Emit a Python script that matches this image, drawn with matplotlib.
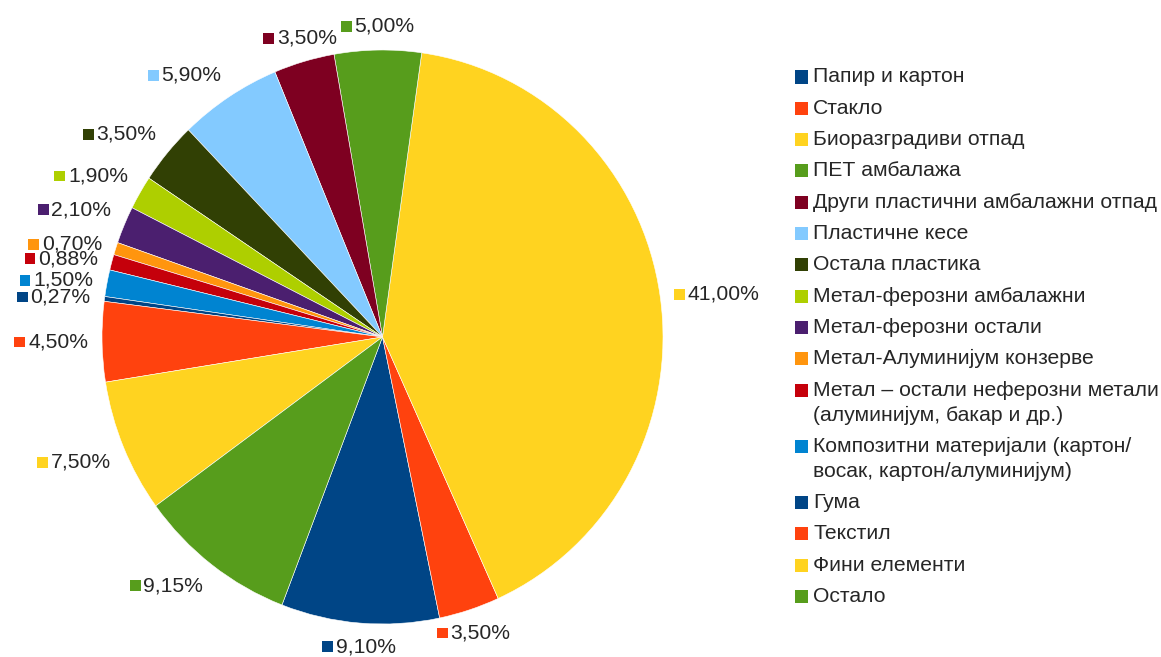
import numpy as np
import matplotlib
matplotlib.use("Agg")
import matplotlib.pyplot as plt
from matplotlib.patches import Rectangle
from matplotlib.offsetbox import AnnotationBbox, HPacker, DrawingArea, TextArea

categories = [
    "Папир и картон",
    "Стакло",
    "Биоразградиви отпад",
    "ПЕТ амбалажа",
    "Други пластични амбалажни отпад",
    "Пластичне кесе",
    "Остала пластика",
    "Метал-ферозни амбалажни",
    "Метал-ферозни остали",
    "Метал-Алуминијум конзерве",
    "Метал – остали неферозни метали\n(алуминијум, бакар и др.)",
    "Композитни материјали (картон/\nвосак, картон/алуминијум)",
    "Гума",
    "Текстил",
    "Фини елементи",
    "Остало",
]
values = [9.10, 3.50, 41.00, 5.00, 3.50, 5.90, 3.50, 1.90,
          2.10, 0.70, 0.88, 1.50, 0.27, 4.50, 7.50, 9.15]
colors = ["#004586", "#ff420e", "#ffd320", "#579d1c", "#7e0021", "#83caff",
          "#314004", "#aecf00", "#4b1f6f", "#ff950e", "#c5000b", "#0084d1",
          "#004586", "#ff420e", "#ffd320", "#579d1c"]

W, H = 1161, 657
FONT = "Liberation Sans"
TXT = "#262626"
FS = 15.2
START = -111.0


def label_align(deg):
    # libreoffice style: 8 sectors around the circle
    d = deg % 360
    if d <= 22.5 or d > 337.5:
        return 0.0, 0.5
    if d < 67.5:
        return 0.0, 0.0
    if d < 112.5:
        return 0.5, 0.0
    if d <= 157.5:
        return 1.0, 0.0
    if d <= 202.5:
        return 1.0, 0.5
    if d < 247.5:
        return 1.0, 1.0
    if d < 292.5:
        return 0.5, 1.0
    return 0.0, 1.0


def pie_labels(ax):
    total = sum(values)
    angle = START
    for v, c in zip(values, colors):
        span = 360.0 * v / total
        mid = angle + span / 2
        angle += span
        r = 1.05
        px, py = r * np.cos(np.radians(mid)), r * np.sin(np.radians(mid))
        da = DrawingArea(7.8, 7.8, 0, 0)
        da.add_artist(Rectangle((0, 0), 7.8, 7.8, fc=c, ec="none"))
        ta = TextArea(f"{v:.2f}".replace(".", ",") + "%",
                      textprops=dict(fontsize=FS, color=TXT, family=FONT))
        box = HPacker(children=[da, ta], align="center", pad=0, sep=2)
        ab = AnnotationBbox(box, (px, py), xycoords="data",
                            box_alignment=label_align(mid), frameon=False,
                            pad=0, annotation_clip=False)
        ax.add_artist(ab)


def legend(fig):
    y = 77
    for name, c in zip(categories, colors):
        lines = name.split("\n")
        fig.patches.append(Rectangle((795 / W, 1 - (y + 6.5) / H), 13 / W, 13 / H,
                                     fc=c, ec="none",
                                     transform=fig.transFigure, figure=fig))
        for i, ln in enumerate(lines):
            fig.text(813 / W, 1 - (y + 25 * i) / H, ln, fontsize=FS, color=TXT,
                     family=FONT, va="center", ha="left")
        y += 31.3 + 25 * (len(lines) - 1)


def main():
    fig = plt.figure(figsize=(W / 100, H / 100), dpi=100)
    ax = fig.add_axes([102 / W, (H - 624) / H, 561 / W, 574 / H])
    ax.pie(values, colors=colors, startangle=START, counterclock=True,
           wedgeprops=dict(linewidth=0.4, edgecolor="white"))
    ax.set_aspect("auto")
    ax.set_xlim(-1, 1)
    ax.set_ylim(-1, 1)
    ax.axis("off")
    pie_labels(ax)
    legend(fig)
    fig.savefig("out.png", dpi=100)


if __name__ == "__main__":
    main()
